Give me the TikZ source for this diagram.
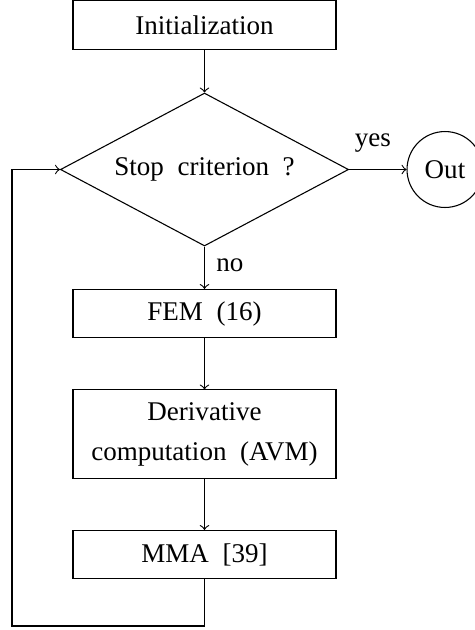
\documentclass[tikz,border=0pt]{standalone}
\usepackage{fontspec}
\setmainfont{Liberation Serif}
\usetikzlibrary{shapes.geometric}
\begin{document}
\begin{tikzpicture}[x=0.37pt,y=-0.37pt,
  every node/.style={font=\fontsize{10}{14.8}\selectfont},
  box/.style={draw,rectangle,minimum width=97.3pt,minimum height=17.8pt,inner sep=0pt,align=center},
  decision/.style={draw,diamond,minimum width=106.6pt,minimum height=56.6pt,inner sep=0pt,aspect=1.88},
  endnode/.style={draw,circle,minimum size=28.1pt,inner sep=0pt},
  flow/.style={->,line width=0.4pt}]
\useasboundingbox (0,0) rectangle (475,630);
\node[box] (init) at (204.5,25) {Initialization};
\node[decision] (dia) at (204.5,169.5) {Stop\ \ criterion\ \ ?};
\node[endnode] (out) at (445,169.5) {Out};
\node[box] (fem) at (204.5,313.5) {FEM\ \ (16)};
\node[box,minimum height=32.6pt] (der) at (204.5,434) {Derivative\\computation\ \ (AVM)};
\node[box] (mma) at (204.5,554.5) {MMA\ \ [39]};
\node (yes) at (373,143) {yes};
\node (no) at (230,265) {no};
\coordinate (lp) at (12,626);
\draw[flow] (init) -- (dia);
\draw[flow] (dia) -- (out);
\draw[flow] (dia) -- (fem);
\draw[flow] (fem) -- (der);
\draw[flow] (der) -- (mma);
\draw[flow] (mma.south) |- (lp) |- (dia.west);
\end{tikzpicture}
\end{document}
